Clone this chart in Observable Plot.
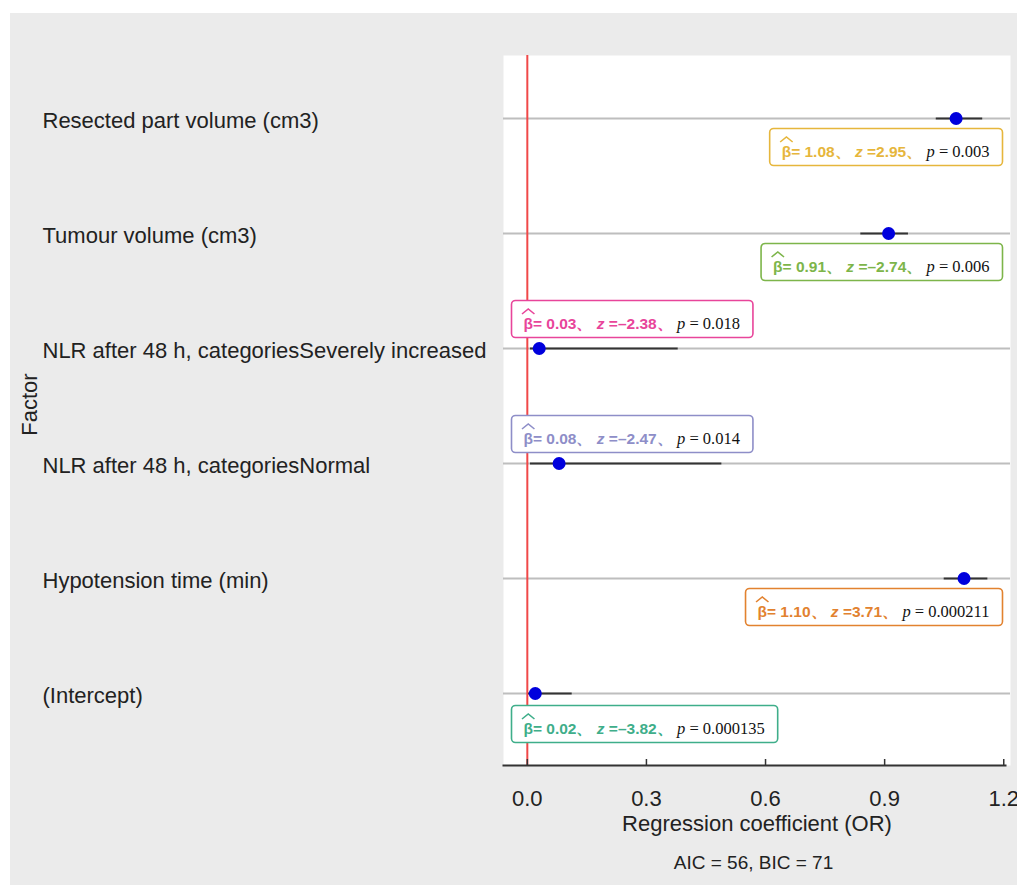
<!DOCTYPE html>
<html><head><meta charset="utf-8">
<script src="https://cdn.jsdelivr.net/npm/d3@7"></script>
<script src="https://cdn.jsdelivr.net/npm/@observablehq/plot@0.6"></script>
<style>
body{margin:0;background:#fff;}
#chart{position:absolute;left:10px;top:13px;}
</style></head><body><div id="chart"></div>
<script>
const factors = ["Resected part volume (cm3)","Tumour volume (cm3)","NLR after 48 h, categoriesSeverely increased","NLR after 48 h, categoriesNormal","Hypotension time (min)","(Intercept)"];
const estimates = [1.08, 0.91, 0.03, 0.08, 1.10, 0.02];
const ciLow = [1.03, 0.84, 0.008, 0.008, 1.05, 0.003];
const ciHigh = [1.147, 0.96, 0.38, 0.49, 1.16, 0.113];
const betaLabels = ["1.08","0.91","0.03","0.08","1.10","0.02"];
const zLabels = ["2.95","–2.74","–2.38","–2.47","3.71","–3.82"];
const pLabels = ["0.003","0.006","0.018","0.014","0.000211","0.000135"];
const labelColors = ["#E6B63C","#7DB54A","#E8459A","#8E8EC8","#E2822F","#3FAE8A"];
const xTicks = [0, 0.3, 0.6, 0.9, 1.2];
const xTitle = "Regression coefficient (OR)";
const yTitle = "Factor";
const fitStats = "AIC = 56, BIC = 71";

// label layout (placement of the stat boxes)
const labelPlacement = ["below","below","above","above","below","below"];

const rows = factors.map((f, i) => ({
  i, factor: f, est: estimates[i], lo: ciLow[i], hi: ciHigh[i], color: labelColors[i],
  side: estimates[i] > 0.5 ? "right" : "left", place: labelPlacement[i]
}));

const W = 1007, H = 872, mL = 493, mR = 7, mT = 42, mB = 120;
const sans = "'Liberation Sans', Arial, sans-serif";

const labelMark = (sel, anchor, dx, dy) => Plot.text(rows.filter(sel), {
  y: "factor", text: d => "§" + d.i, frameAnchor: anchor,
  textAnchor: anchor === "right" ? "end" : "start", lineAnchor: "bottom",
  dx, dy, fill: "color", fontSize: 15.5, fontWeight: "bold"
});

const chart = Plot.plot({
  width: W, height: H, marginLeft: mL, marginRight: mR, marginTop: mT, marginBottom: mB,
  style: {background: "#EBEBEB", fontFamily: sans, overflow: "visible"},
  x: {domain: [-0.06, 1.217]},
  y: {domain: factors, type: "point", padding: 0, insetTop: 62, insetBottom: 72, axis: null},
  color: {type: "identity"},
  marks: [
    Plot.frame({fill: "white"}),
    Plot.ruleY(factors, {y: d => d, stroke: "#BEBEBE", strokeWidth: 2}),
    Plot.ruleX([0], {stroke: "#F04848", strokeWidth: 2}),
    Plot.frame({anchor: "bottom", stroke: "#333", strokeWidth: 2, insetRight: 5}),
    Plot.tickX(xTicks, {x: d => d, stroke: "#333", strokeWidth: 1.5, insetTop: (H - mT - mB) - 6}),
    Plot.axisX(xTicks, {tickSize: 0, tickPadding: 25, tickFormat: d3.format(".1f"), fontSize: 22, fill: "#222", label: null}),
    Plot.ruleY(rows, {y: "factor", x1: "lo", x2: "hi", stroke: "#333", strokeWidth: 2}),
    Plot.dot(rows, {x: "est", y: "factor", r: 6.5, fill: "#0000DD"}),
    Plot.text(factors, {y: d => d, text: d => d, frameAnchor: "left", textAnchor: "start", dx: 32 - mL, dy: 2, fontSize: 22, fill: "#222"}),
    Plot.text([yTitle], {text: d => d, frameAnchor: "left", textAnchor: "middle", rotate: -90, dx: 19 - mL, dy: -6, fontSize: 22, fill: "#222"}),
    Plot.text([xTitle], {text: d => d, frameAnchor: "bottom", lineAnchor: "bottom", dy: 65, fontSize: 22, fill: "#222"}),
    Plot.text([fitStats], {text: d => d, frameAnchor: "bottom", lineAnchor: "bottom", dx: -3.5, dy: 103, fontSize: 19, fill: "#222"}),
    labelMark(d => d.side === "right" && d.place === "below", "right", -21, 38),
    labelMark(d => d.side === "left" && d.place === "above", "left", 20, -20),
    labelMark(d => d.side === "left" && d.place === "below", "left", 20, 40)
  ]
});

document.getElementById("chart").appendChild(chart);

const NS = "http://www.w3.org/2000/svg";
chart.querySelectorAll("text").forEach(t => {
  const s = t.textContent;
  if (!s.startsWith("§")) return;
  const i = +s.slice(1);
  const color = t.getAttribute("fill") || labelColors[i];
  t.textContent = "";
  const serif = "font-weight:normal;font-family:'Liberation Serif','Times New Roman',serif;font-size:16.5px";
  const parts = [
    {txt: "\u03B2= " + betaLabels[i] + "\u3001 "},
    {txt: "z", style: "font-style:italic"},
    {txt: " =" + zLabels[i] + "\u3001 "},
    {txt: "p", style: "font-style:italic;" + serif, fill: "#111"},
    {txt: " = " + pLabels[i], style: serif, fill: "#111"}
  ];
  parts.forEach(p => {
    const ts = document.createElementNS(NS, "tspan");
    ts.textContent = p.txt;
    if (p.style) ts.setAttribute("style", p.style);
    if (p.fill) ts.setAttribute("fill", p.fill);
    t.appendChild(ts);
  });
  const bb = t.getBBox();
  const y0 = parseFloat(t.getAttribute("y")) || 0;
  const tr = t.getAttribute("transform");
  const r = document.createElementNS(NS, "rect");
  r.setAttribute("x", bb.x - 12);
  r.setAttribute("width", bb.width + 25);
  r.setAttribute("y", y0 - 28);
  r.setAttribute("height", 37);
  r.setAttribute("rx", 4);
  r.setAttribute("fill", "white");
  r.setAttribute("stroke", color);
  r.setAttribute("stroke-width", 1.6);
  if (tr) r.setAttribute("transform", tr);
  t.parentNode.insertBefore(r, t);
  // hat over beta
  const a = t.getStartPositionOfChar(0).x, b = t.getEndPositionOfChar(0).x;
  const h = document.createElementNS(NS, "path");
  h.setAttribute("d", `M${a - 1.5},${y0 - 14.5}L${(a + b) / 2},${y0 - 19.5}L${b + 1.5},${y0 - 14.5}`);
  h.setAttribute("fill", "none");
  h.setAttribute("stroke", color);
  h.setAttribute("stroke-width", 1.6);
  if (tr) h.setAttribute("transform", tr);
  t.parentNode.appendChild(h);
});
</script></body></html>
